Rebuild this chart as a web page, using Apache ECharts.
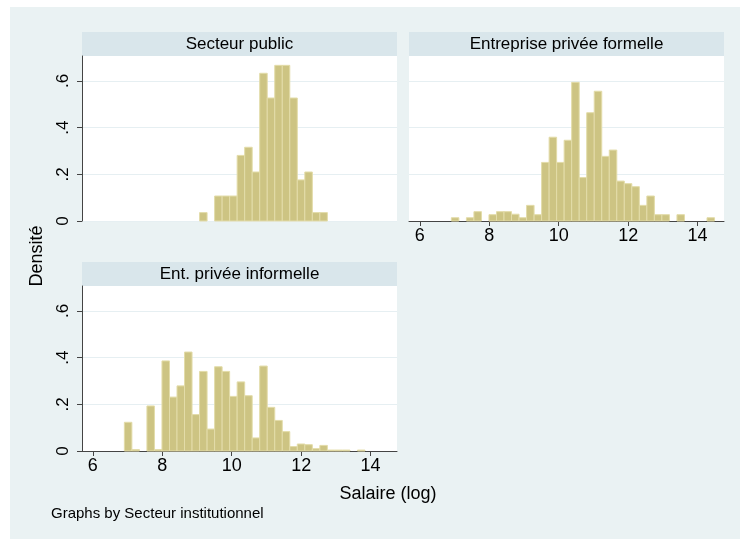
<!DOCTYPE html>
<html>
<head>
<meta charset="utf-8">
<script src="https://cdn.jsdelivr.net/npm/echarts@6/dist/echarts.min.js"></script>
<style>
  html, body { margin: 0; padding: 0; background: #fff; }
  #main { width: 740px; height: 539px; }
</style>
</head>
<body>
<div id="main"></div>
<script>
// bins shared by the three panels (Stata histogram, by())
var binStart = 6.91;
var binWidth = 0.2165;
var xTicks = [6, 8, 10, 12, 14];
var yTicks = [0, 0.2, 0.4, 0.6];
var panelTitles = ['Secteur public', 'Entreprise privée formelle', 'Ent. privée informelle'];

// density per bin, 35 bins
var densPublic = [0, 0, 0, 0, 0, 0, 0, 0, 0, 0,
  0.036, 0, 0.107, 0.107, 0.107, 0.281, 0.316, 0.21, 0.633, 0.527,
  0.667, 0.667, 0.527, 0.176, 0.21, 0.036, 0.036, 0, 0, 0,
  0, 0, 0, 0, 0];
var densFormelle = [0.014, 0, 0.014, 0.04, 0, 0.027, 0.04, 0.04, 0.029, 0.014,
  0.067, 0.027, 0.251, 0.359, 0.251, 0.346, 0.594, 0.186, 0.464, 0.556,
  0.277, 0.304, 0.171, 0.16, 0.147, 0.067, 0.107, 0.027, 0.027, 0,
  0.027, 0, 0, 0, 0.014];
var densInformelle = [0.123, 0.006, 0, 0.193, 0.006, 0.386, 0.231, 0.279, 0.424, 0.156,
  0.341, 0.094, 0.361, 0.341, 0.234, 0.296, 0.237, 0.056, 0.364, 0.187,
  0.131, 0.083, 0.019, 0.03, 0.027, 0.01, 0.024, 0.004, 0.004, 0.004,
  0, 0.004, 0, 0, 0];

var FONT = 'Liberation Sans, Arial, Helvetica, sans-serif';
var xMin = 5.69, xMax = 14.76, yMax = 0.707;

function toBins(dens) {
  var out = [];
  dens.forEach(function (d, i) {
    if (d > 0) out.push([binStart + i * binWidth, binStart + (i + 1) * binWidth, d]);
  });
  return out;
}

function renderBar(params, api) {
  var p0 = api.coord([api.value(0), api.value(2)]);
  var p1 = api.coord([api.value(1), 0]);
  return {
    type: 'rect',
    shape: { x: p0[0], y: p0[1], width: p1[0] - p0[0], height: p1[1] - p0[1] },
    style: { fill: '#cdc483', stroke: '#e3dca9', lineWidth: 1 }
  };
}

function yLabel(v) {
  if (Math.abs(v) < 1e-9) return '0';
  return v.toFixed(1).replace('0.', '.');
}

function makeX(idx, show) {
  return {
    type: 'value', gridIndex: idx, min: xMin, max: xMax,
    show: show,
    axisLine: { show: true, onZero: false, lineStyle: { color: '#444', width: 1 } },
    axisTick: { show: true, length: 5, customValues: xTicks, lineStyle: { color: '#444' } },
    axisLabel: { show: true, customValues: xTicks, margin: 6, color: '#000', fontSize: 18, fontFamily: FONT },
    splitLine: { show: false }
  };
}

function makeY(idx, showAxis) {
  return {
    type: 'value', gridIndex: idx, min: 0, max: yMax, interval: 0.2,
    axisLine: { show: showAxis, lineStyle: { color: '#444', width: 1 } },
    axisTick: { show: showAxis, length: 5, customValues: yTicks, lineStyle: { color: '#444' } },
    axisLabel: { show: showAxis, customValues: yTicks, rotate: 90, margin: 10, color: '#000',
      fontSize: 17, fontFamily: FONT, formatter: yLabel },
    splitLine: { show: true, lineStyle: { color: '#e6eff2', width: 1 } }
  };
}

var myChart = echarts.init(document.getElementById('main'));

var grids = [
  { left: 82, top: 56, width: 315, height: 165 },
  { left: 409, top: 56, width: 315, height: 165 },
  { left: 82, top: 286, width: 315, height: 165 }
];
grids.forEach(function (g) {
  g.show = true; g.backgroundColor = '#fff'; g.borderWidth = 0; g.containLabel = false;
});

var headers = [[82, 32], [409, 32], [82, 262]];
var graphics = [
  { type: 'rect', shape: { x: 0, y: 0, width: 10, height: 539 }, style: { fill: '#fff' } },
  { type: 'rect', shape: { x: 0, y: 0, width: 740, height: 7 }, style: { fill: '#fff' } }
];
headers.forEach(function (h, i) {
  graphics.push({ type: 'rect', shape: { x: h[0], y: h[1], width: 315, height: 24 }, style: { fill: '#d9e6eb' } });
  graphics.push({ type: 'text', x: h[0] + 157.5, y: h[1] + 12,
    style: { text: panelTitles[i], fill: '#000', font: '17px ' + FONT, align: 'center', verticalAlign: 'middle' } });
});
graphics.push({ type: 'text', x: 37, y: 256, rotation: Math.PI / 2,
  style: { text: 'Densité', fill: '#000', font: '18px ' + FONT, align: 'center', verticalAlign: 'middle' } });
graphics.push({ type: 'text', x: 388, y: 494,
  style: { text: 'Salaire (log)', fill: '#000', font: '18px ' + FONT, align: 'center', verticalAlign: 'middle' } });
graphics.push({ type: 'text', x: 51, y: 514,
  style: { text: 'Graphs by Secteur institutionnel', fill: '#000', font: '15px ' + FONT, align: 'left', verticalAlign: 'middle' } });

var option = {
  backgroundColor: '#eaf2f3',
  animation: false,
  grid: grids,
  xAxis: [makeX(0, false), makeX(1, true), makeX(2, true)],
  yAxis: [makeY(0, true), makeY(1, false), makeY(2, true)],
  graphic: graphics,
  series: [
    { type: 'custom', xAxisIndex: 0, yAxisIndex: 0, renderItem: renderBar, encode: { x: [0, 1], y: 2 }, data: toBins(densPublic) },
    { type: 'custom', xAxisIndex: 1, yAxisIndex: 1, renderItem: renderBar, encode: { x: [0, 1], y: 2 }, data: toBins(densFormelle) },
    { type: 'custom', xAxisIndex: 2, yAxisIndex: 2, renderItem: renderBar, encode: { x: [0, 1], y: 2 }, data: toBins(densInformelle) }
  ]
};
myChart.setOption(option);
</script>
</body>
</html>
